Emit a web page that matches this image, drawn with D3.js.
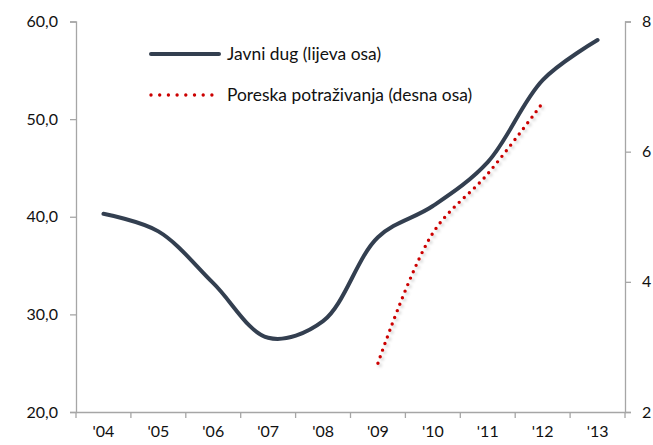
<!DOCTYPE html>
<html>
<head>
<meta charset="utf-8">
<script src="https://cdn.jsdelivr.net/npm/d3@7"></script>
<style>
  body { margin: 0; background: #fff; }
  svg text { font-family: Lato, "Open Sans", sans-serif; fill: #111; }
</style>
</head>
<body>
<div id="chart"></div>
<script>
// Podaci
const years = ["'04", "'05", "'06", "'07", "'08", "'09", "'10", "'11", "'12", "'13"];
const javniDug = [40.3, 38.5, 33.2, 27.6, 29.3, 37.9, 41.1, 45.6, 54.0, 58.1];
const poreskaYears = ["'09", "'10", "'11", "'12"];
const poreska = [2.75, 4.75, 5.66, 6.75];
const leftTicks = [20, 30, 40, 50, 60];
const rightTicks = [2, 4, 6, 8];

const width = 653, height = 445;
const margin = { top: 21.5, right: 28, bottom: 33, left: 76 };

const svg = d3.select("#chart").append("svg")
    .attr("width", width)
    .attr("height", height);

const defs = svg.append("defs");
const shadow = defs.append("filter").attr("id", "shadow")
    .attr("x", "-20%").attr("y", "-20%").attr("width", "140%").attr("height", "140%");
shadow.append("feDropShadow")
    .attr("dx", 2).attr("dy", 2).attr("stdDeviation", 1.6)
    .attr("flood-color", "#000").attr("flood-opacity", 0.22);

const xBand = d3.scaleBand()
    .domain(years)
    .range([margin.left, width - margin.right]);

const xc = d => xBand(d) + xBand.bandwidth() / 2;

const yL = d3.scaleLinear().domain([20, 60]).range([height - margin.bottom, margin.top]);
const yR = d3.scaleLinear().domain([2, 8]).range([height - margin.bottom, margin.top]);

const axisColor = "#a6a6a6";

// Lijeva osa
const gl = svg.append("g")
    .attr("transform", `translate(${margin.left},0)`)
    .call(d3.axisLeft(yL).tickValues(leftTicks).tickSize(6).tickPadding(12)
        .tickFormat(d => d3.format(".1f")(d).replace(".", ",")));
gl.selectAll("text").style("font-size", "16px");

// Desna osa
const gr = svg.append("g")
    .attr("transform", `translate(${width - margin.right},0)`)
    .call(d3.axisRight(yR).tickValues(rightTicks).tickSize(6).tickPadding(11)
        .tickFormat(d3.format("d")));
gr.selectAll("text").style("font-size", "16px");

// X osa
const gx = svg.append("g")
    .attr("transform", `translate(0,${height - margin.bottom})`)
    .call(d3.axisBottom(xBand).tickSize(0).tickPadding(14));
gx.selectAll("text").style("font-size", "16px");
gx.selectAll(".tickmark")
    .data(years.map(d => xBand(d)).concat([xBand.range()[1]]))
    .join("line")
    .attr("class", "tickmark")
    .attr("x1", d => d).attr("x2", d => d)
    .attr("y1", 0).attr("y2", 6);

svg.selectAll(".domain, .tick line, .tickmark")
    .attr("stroke", axisColor)
    .attr("stroke-width", 1.3);

// Javni dug
const lineL = d3.line()
    .x((d, i) => xc(years[i]))
    .y(d => yL(d))
    .curve(d3.curveCatmullRom.alpha(0.5));

svg.append("path")
    .datum(javniDug)
    .attr("fill", "none")
    .attr("stroke", "#333f50")
    .attr("stroke-width", 4)
    .attr("stroke-linecap", "round")
    .attr("d", lineL);

// Poreska potraživanja
const lineR = d3.line()
    .x((d, i) => xc(poreskaYears[i]))
    .y(d => yR(d))
    .curve(d3.curveCatmullRom.alpha(0.5));

svg.append("path")
    .datum(poreska)
    .attr("fill", "none")
    .attr("stroke", "#cc0000")
    .attr("stroke-width", 3.4)
    .attr("stroke-linecap", "round")
    .attr("stroke-dasharray", "0 7")
    .attr("filter", "url(#shadow)")
    .attr("d", lineR);

// Legenda
const legend = svg.append("g");
legend.append("line")
    .attr("x1", 151).attr("x2", 219).attr("y1", 54).attr("y2", 54)
    .attr("stroke", "#333f50").attr("stroke-width", 4).attr("stroke-linecap", "round");
legend.append("text")
    .attr("x", 227).attr("y", 60)
    .style("font-size", "17.4px")
    .text("Javni dug (lijeva osa)");
legend.append("line")
    .attr("x1", 151).attr("x2", 214).attr("y1", 95).attr("y2", 95)
    .attr("stroke", "#cc0000").attr("stroke-width", 3.4)
    .attr("stroke-linecap", "round").attr("stroke-dasharray", "0 8.7");
legend.append("text")
    .attr("x", 227).attr("y", 101)
    .style("font-size", "17.4px")
    .text("Poreska potraživanja (desna osa)");
</script>
</body>
</html>
